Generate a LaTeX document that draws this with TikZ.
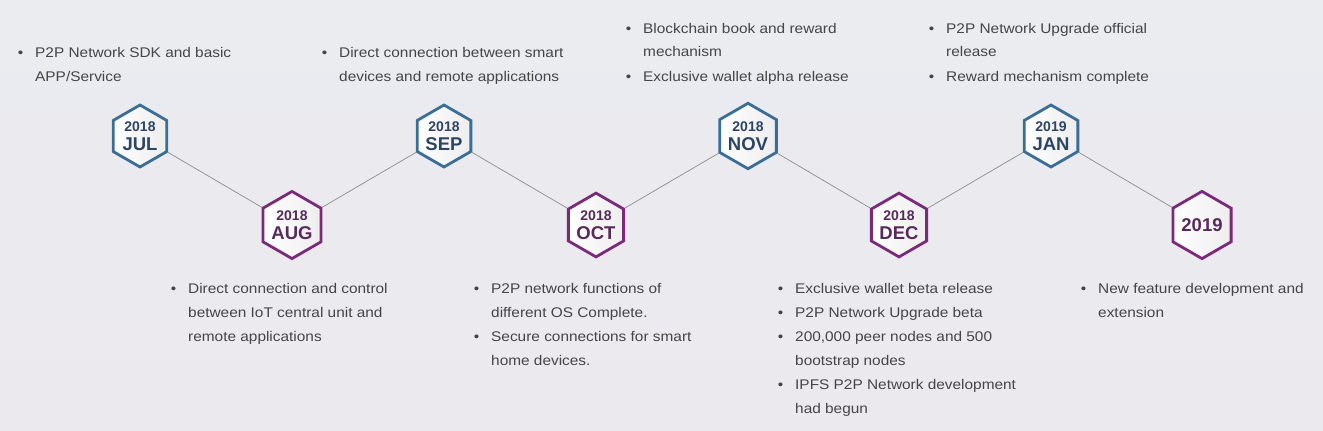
\documentclass[tikz,border=0pt]{standalone}
\usepackage{fontspec}
\setmainfont{Liberation Sans}
\newfontfamily\notefont[FakeStretch=1.1]{Liberation Sans}
\usetikzlibrary{shapes.geometric}

\definecolor{hexblue}{HTML}{3B6E96}
\definecolor{hexpurple}{HTML}{7A2A78}
\definecolor{txtblue}{HTML}{2C4466}
\definecolor{txtpurple}{HTML}{562A5A}
\definecolor{listgrey}{HTML}{454545}
\definecolor{bgtop}{HTML}{EAECF0}
\definecolor{bgbottom}{HTML}{ECE9EE}

\newcommand{\itm}{\llap{\textbullet\hspace{12pt}}}

\tikzset{
  hexnode/.style={regular polygon, regular polygon sides=6, shape border rotate=30,
    minimum size=62pt, inner sep=0pt, line width=2.8pt, left color=white, right color=gray!14,
    align=center, font=\bfseries\fontsize{14}{19}\selectfont},
  hexup/.style={hexnode, draw=hexblue, text=txtblue},
  hexdown/.style={hexnode, draw=hexpurple, text=txtpurple},
  link/.style={draw=gray!90, line width=0.7pt},
  notes/.style={anchor=base west, inner sep=0pt, text=listgrey, font=\notefont\fontsize{14}{24}\selectfont}
}
\newcommand{\mon}[1]{{\fontsize{18.5}{19}\selectfont #1}}

\begin{document}
\begin{tikzpicture}[x=1pt,y=-1pt]
  \shade[top color=bgtop, bottom color=bgbottom] (0,0) rectangle (1323,431);
  \useasboundingbox (0,0) rectangle (1323,431);

  % hexagons
  \node[hexup]   (jul) at (140,136) {2018\\\mon{JUL}};
  \node[hexdown] (aug) at (292,225) {2018\\\mon{AUG}};
  \node[hexup]   (sep) at (444,136) {2018\\\mon{SEP}};
  \node[hexdown] (oct) at (596,225) {2018\\\mon{OCT}};
  \node[hexup]   (nov) at (748,136) {2018\\\mon{NOV}};
  \node[hexdown] (dec) at (899,225) {2018\\\mon{DEC}};
  \node[hexup]   (jan) at (1051,136) {2019\\\mon{JAN}};
  \node[hexdown] (y2019) at (1202,225) {\mon{2019}};

  \draw[link] (jul) -- (aug);
  \draw[link] (aug) -- (sep);
  \draw[link] (sep) -- (oct);
  \draw[link] (oct) -- (nov);
  \draw[link] (nov) -- (dec);
  \draw[link] (dec) -- (jan);
  \draw[link] (jan) -- (y2019);

  % notes above
  \node[notes] (njul) at (35,57) {\begin{tabular}[t]{@{}l@{}}
    \itm P2P Network SDK and basic\\ APP/Service\end{tabular}};
  \node[notes] (nsep) at (339,57) {\begin{tabular}[t]{@{}l@{}}
    \itm Direct connection between smart\\ devices and remote applications\end{tabular}};
  \node[notes] (nnov) at (643,33) {\begin{tabular}[t]{@{}l@{}}
    \itm Blockchain book and reward\\ mechanism\\
    \itm Exclusive wallet alpha release\end{tabular}};
  \node[notes] (njan) at (946,33) {\begin{tabular}[t]{@{}l@{}}
    \itm P2P Network Upgrade official\\ release\\
    \itm Reward mechanism complete\end{tabular}};

  % notes below
  \node[notes] (naug) at (188,293) {\begin{tabular}[t]{@{}l@{}}
    \itm Direct connection and control\\ between IoT central unit and\\ remote applications\end{tabular}};
  \node[notes] (noct) at (491,293) {\begin{tabular}[t]{@{}l@{}}
    \itm P2P network functions of\\ different OS Complete.\\
    \itm Secure connections for smart\\ home devices.\end{tabular}};
  \node[notes] (ndec) at (795,293) {\begin{tabular}[t]{@{}l@{}}
    \itm Exclusive wallet beta release\\
    \itm P2P Network Upgrade beta\\
    \itm 200,000 peer nodes and 500\\ bootstrap nodes\\
    \itm IPFS P2P Network development\\ had begun\end{tabular}};
  \node[notes] (n2019) at (1098,293) {\begin{tabular}[t]{@{}l@{}}
    \itm New feature development and\\ extension\end{tabular}};
\end{tikzpicture}
\end{document}
